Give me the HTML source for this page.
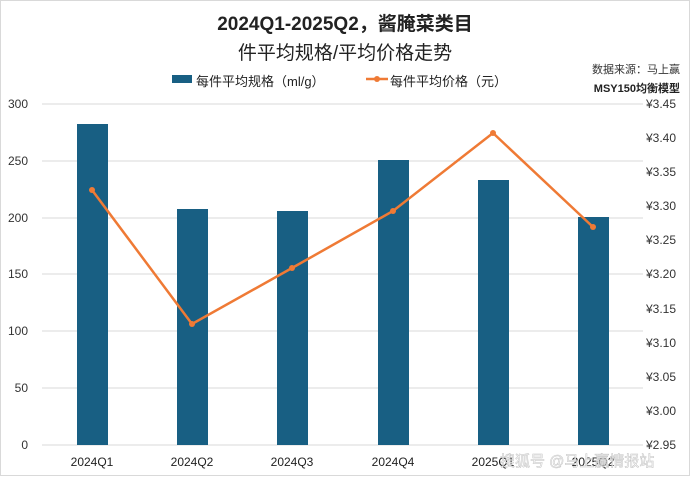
<!DOCTYPE html>
<html><head><meta charset="utf-8"><style>
body{margin:0;background:#fff}
svg text{font-family:"Liberation Sans","Noto Sans CJK SC",sans-serif}
</style></head><body>
<svg width="690" height="476" viewBox="0 0 690 476" xmlns="http://www.w3.org/2000/svg">
<rect x="0.5" y="0.5" width="689" height="475" fill="#fff" stroke="#d9d9d9"/>
<text x="345" y="30" text-anchor="middle" font-size="19" font-weight="bold" fill="#222" font-family="Liberation Mono,Noto Sans CJK SC,monospace">2024Q1-2025Q2，酱腌菜类目</text>
<text x="345" y="59" text-anchor="middle" font-size="19" fill="#222" font-family="Noto Sans CJK SC,sans-serif">件平均规格/平均价格走势</text>
<rect x="172" y="101" width="20" height="8" fill="#185f83" transform="translate(0,-26)"/>
<text x="196" y="86" font-size="13" fill="#222">每件平均规格（ml/g）</text>
<line x1="366" y1="79" x2="388" y2="79" stroke="#ef7a35" stroke-width="2.5"/>
<circle cx="377" cy="79" r="3" fill="#ef7a35"/>
<text x="390" y="86" font-size="13" fill="#222">每件平均价格（元）</text>
<text x="680" y="73" text-anchor="end" font-size="11" fill="#333">数据来源：马上赢</text>
<text x="680" y="92" text-anchor="end" font-size="11" fill="#222" font-weight="bold">MSY150均衡模型</text>
<g stroke="#d9d9d9" stroke-width="1">
<line x1="42" y1="104" x2="643" y2="104"/><line x1="42" y1="161" x2="643" y2="161"/>
<line x1="42" y1="218" x2="643" y2="218"/><line x1="42" y1="274" x2="643" y2="274"/>
<line x1="42" y1="331" x2="643" y2="331"/><line x1="42" y1="388" x2="643" y2="388"/>
<line x1="42" y1="445" x2="643" y2="445"/>
</g>
<g font-size="12" fill="#333" text-anchor="end">
<text x="28" y="108">300</text><text x="28" y="165">250</text><text x="28" y="222">200</text>
<text x="28" y="278">150</text><text x="28" y="335">100</text><text x="28" y="392">50</text><text x="28" y="449">0</text>
</g>
<g font-size="12" fill="#333">
<text x="646" y="108">¥3.45</text><text x="646" y="142">¥3.40</text><text x="646" y="176">¥3.35</text>
<text x="646" y="210">¥3.30</text><text x="646" y="244">¥3.25</text><text x="646" y="278">¥3.20</text>
<text x="646" y="313">¥3.15</text><text x="646" y="347">¥3.10</text><text x="646" y="381">¥3.05</text>
<text x="646" y="415">¥3.00</text><text x="646" y="449">¥2.95</text>
</g>
<g fill="#185f83">
<rect x="77" y="124" width="31" height="321"/>
<rect x="177" y="209" width="31" height="236"/>
<rect x="277" y="211" width="31" height="234"/>
<rect x="378" y="160" width="31" height="285"/>
<rect x="478" y="180" width="31" height="265"/>
<rect x="578" y="217" width="31" height="228"/>
</g>
<polyline points="92,190 192,324 292,268 393,211 493,133 593,227" fill="none" stroke="#ef7a35" stroke-width="2.5"/>
<g fill="#ef7a35">
<circle cx="92" cy="190" r="3"/><circle cx="192" cy="324" r="3"/><circle cx="292" cy="268" r="3"/>
<circle cx="393" cy="211" r="3"/><circle cx="493" cy="133" r="3"/><circle cx="593" cy="227" r="3"/>
</g>
<g font-size="12" fill="#222" text-anchor="middle">
<text x="92" y="466">2024Q1</text><text x="192" y="466">2024Q2</text><text x="292" y="466">2024Q3</text>
<text x="393" y="466">2024Q4</text><text x="493" y="466">2025Q1</text><text x="593" y="466">2025Q2</text>
</g>
<text x="500" y="466" font-size="15" fill="#fff" stroke="#bbb" stroke-width="0.5" opacity="0.9">搜狐号 @马上赢情报站</text>
</svg>
</body></html>
